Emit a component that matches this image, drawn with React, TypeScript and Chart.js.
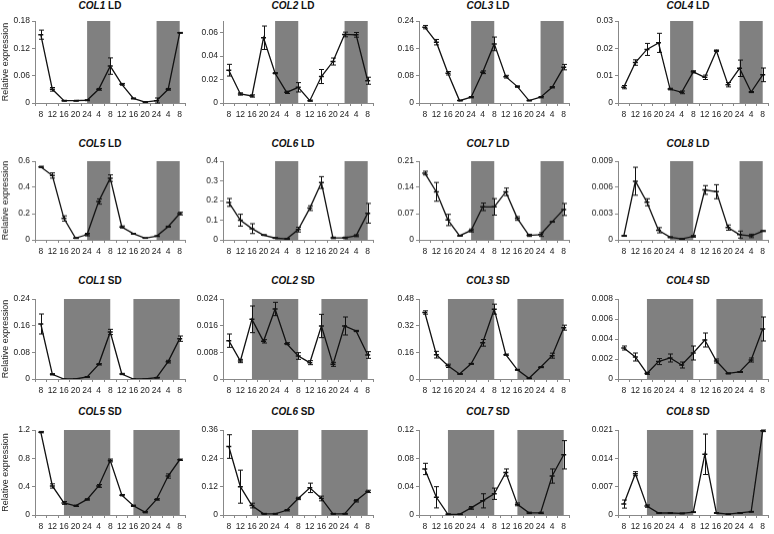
import React, { useEffect, useRef } from "react";
import { Chart, registerables } from "chart.js";

Chart.register(...registerables);

// ---------- categories ----------
const timeLabels = ["8", "12", "16", "20", "24", "4", "8", "12", "16", "20", "24", "4", "8"];

// dark periods as [fromIndex, toIndex] on the category axis
const ldDark = [[4, 6], [10, 12]];
const sdDark = [[2, 6], [8, 12]];

// ---------- series values and error bars ----------
const col1LD = [0.15, 0.03, 0.005, 0.005, 0.006, 0.03, 0.081, 0.041, 0.01, 0.002, 0.005, 0.03, 0.154];
const col1LDErr = [0.01, 0.004, 0.001, 0.001, 0.001, 0.002, 0.018, 0.002, 0.001, 0.001, 0.006, 0.002, 0.001];
const col2LD = [0.028, 0.0077, 0.006, 0.0557, 0.0254, 0.0091, 0.0134, 0.002, 0.0226, 0.0354, 0.0585, 0.0582, 0.019];
const col2LDErr = [0.005, 0.001, 0.001, 0.01, 0.0005, 0.001, 0.004, 0.0005, 0.006, 0.003, 0.002, 0.002, 0.003];
const col3LD = [0.222, 0.178, 0.087, 0.007, 0.017, 0.09, 0.173, 0.077, 0.048, 0.007, 0.017, 0.046, 0.105];
const col3LDErr = [0.005, 0.008, 0.005, 0.001, 0.002, 0.004, 0.02, 0.004, 0.002, 0.001, 0.002, 0.002, 0.008];
const col4LD = [0.0058, 0.0148, 0.0196, 0.022, 0.0051, 0.0039, 0.0114, 0.0094, 0.0191, 0.0067, 0.0127, 0.004, 0.0103];
const col4LDErr = [0.0006, 0.001, 0.0022, 0.0035, 0.0003, 0.0005, 0.0004, 0.0008, 0.0003, 0.0008, 0.003, 0.0002, 0.0025];
const col5LD = [0.556, 0.49, 0.163, 0.013, 0.04, 0.292, 0.47, 0.098, 0.047, 0.013, 0.028, 0.1, 0.2];
const col5LDErr = [0.005, 0.02, 0.02, 0.003, 0.01, 0.02, 0.025, 0.008, 0.003, 0.002, 0.003, 0.004, 0.01];
const col6LD = [0.19, 0.1, 0.057, 0.024, 0.009, 0.005, 0.052, 0.161, 0.291, 0.01, 0.01, 0.021, 0.135];
const col6LDErr = [0.02, 0.03, 0.025, 0.002, 0.002, 0.002, 0.012, 0.012, 0.03, 0.004, 0.004, 0.005, 0.05];
const col7LD = [0.178, 0.128, 0.053, 0.011, 0.025, 0.088, 0.088, 0.128, 0.057, 0.012, 0.014, 0.048, 0.081];
const col7LDErr = [0.005, 0.025, 0.015, 0.001, 0.004, 0.01, 0.022, 0.01, 0.005, 0.003, 0.005, 0.001, 0.016];
const col8LD = [0.00045, 0.0067, 0.0043, 0.0011, 0.0003, 0.0001, 0.0004, 0.0057, 0.0055, 0.0014, 0.0006, 0.00045, 0.001];
const col8LDErr = [0.00005, 0.0016, 0.0004, 0.0003, 0.00005, 0.00005, 0.0001, 0.0005, 0.0008, 0.0003, 0.0004, 0.0002, 0.00005];

const col1SD = [0.165, 0.014, 0.0, 0.0, 0.006, 0.044, 0.141, 0.015, 0.0, 0.0, 0.004, 0.052, 0.121];
const col1SDErr = [0.03, 0.002, 0.0, 0.0, 0.001, 0.002, 0.008, 0.002, 0.0, 0.0, 0.001, 0.004, 0.008];
const col2SD = [0.0115, 0.0054, 0.0179, 0.0113, 0.021, 0.0106, 0.0069, 0.0049, 0.0159, 0.0044, 0.0159, 0.0144, 0.0072];
const col2SDErr = [0.002, 0.0005, 0.004, 0.0005, 0.002, 0.0003, 0.001, 0.0006, 0.0035, 0.0006, 0.0027, 0.0002, 0.001];
const col3SD = [0.399, 0.146, 0.079, 0.03, 0.091, 0.217, 0.419, 0.146, 0.055, 0.004, 0.071, 0.14, 0.308];
const col3SDErr = [0.01, 0.02, 0.01, 0.002, 0.003, 0.02, 0.03, 0.004, 0.003, 0.002, 0.003, 0.015, 0.015];
const col4SD = [0.0031, 0.0022, 0.00056, 0.00174, 0.0021, 0.0014, 0.0026, 0.0039, 0.0018, 0.00056, 0.0007, 0.0019, 0.005];
const col4SDErr = [0.0002, 0.0004, 0.0001, 0.0003, 0.0004, 0.0003, 0.0007, 0.0007, 0.0002, 0.00005, 0.00005, 0.0002, 0.0012];
const col5SD = [1.17, 0.41, 0.17, 0.13, 0.22, 0.41, 0.77, 0.28, 0.13, 0.04, 0.22, 0.55, 0.78];
const col5SDErr = [0.01, 0.03, 0.02, 0.01, 0.01, 0.02, 0.02, 0.01, 0.01, 0.01, 0.01, 0.03, 0.01];
const col6SD = [0.29, 0.12, 0.04, 0.005, 0.005, 0.02, 0.07, 0.115, 0.07, 0.005, 0.005, 0.06, 0.1];
const col6SDErr = [0.05, 0.07, 0.01, 0.002, 0.002, 0.003, 0.005, 0.02, 0.01, 0.002, 0.002, 0.005, 0.005];
const col7SD = [0.065, 0.025, 0.001, 0.001, 0.01, 0.02, 0.03, 0.06, 0.015, 0.003, 0.003, 0.055, 0.085];
const col7SDErr = [0.008, 0.015, 0.0005, 0.0005, 0.002, 0.01, 0.008, 0.005, 0.002, 0.001, 0.001, 0.01, 0.02];
const col8SD = [0.0027, 0.0102, 0.0022, 0.0005, 0.0005, 0.0004, 0.0007, 0.015, 0.0005, 0.0002, 0.0005, 0.0008, 0.0208];
const col8SDErr = [0.001, 0.0005, 0.0003, 0.0001, 0.0001, 0.0001, 0.0001, 0.005, 0.0001, 0.0001, 0.0001, 0.0001, 0.0002];

// ---------- y-axis tick settings (max, step) ----------
const yMaxes = [0.18, 0.07, 0.24, 0.03, 0.6, 0.4, 0.21, 0.009, 0.24, 0.024, 0.48, 0.008, 1.2, 0.36, 0.12, 0.021];
const ySteps = [0.06, 0.01, 0.08, 0.01, 0.1, 0.1, 0.07, 0.003, 0.08, 0.008, 0.16, 0.002, 0.4, 0.12, 0.04, 0.007];

const genes = ["COL1", "COL2", "COL3", "COL4", "COL5", "COL6", "COL7", "COL8", "COL1", "COL2", "COL3", "COL4", "COL5", "COL6", "COL7", "COL8"];
const photoperiods = ["LD", "LD", "LD", "LD", "LD", "LD", "LD", "LD", "SD", "SD", "SD", "SD", "SD", "SD", "SD", "SD"];
const seriesList = [col1LD, col2LD, col3LD, col4LD, col5LD, col6LD, col7LD, col8LD, col1SD, col2SD, col3SD, col4SD, col5SD, col6SD, col7SD, col8SD];
const errorList = [col1LDErr, col2LDErr, col3LDErr, col4LDErr, col5LDErr, col6LDErr, col7LDErr, col8LDErr, col1SDErr, col2SDErr, col3SDErr, col4SDErr, col5SDErr, col6SDErr, col7SDErr, col8SDErr];

// ---------- layout ----------
const colAxisX = [35, 223, 419, 618];
const plotW = 153;
const rowPlotTop = [20.5, 161, 298.5, 430];
const rowPlotBottom = [103, 239.5, 379, 515];
const colTitleX = [100, 293, 488, 688];
const rowTitleY = [5.5, 143.5, 280.5, 412];
const Y_W = 35;
const PAD_T = 8;
const X_H = 19;
const FONT = "'Liberation Sans', Arial, Helvetica, sans-serif";

const fmt = (v: number) => String(parseFloat(v.toFixed(6)));

const bandPlugin = {
  id: "bands",
  beforeDatasetsDraw(chart: any, _a: any, opts: any) {
    const { ctx, chartArea, scales } = chart;
    ctx.save();
    ctx.fillStyle = "#808080";
    for (const [a, b] of opts.bands) {
      const x1 = scales.x.getPixelForValue(a);
      const x2 = scales.x.getPixelForValue(b);
      ctx.fillRect(x1, chartArea.top, x2 - x1, chartArea.bottom - chartArea.top);
    }
    ctx.restore();
  },
};

const errPlugin = {
  id: "errbars",
  afterDatasetsDraw(chart: any, _a: any, opts: any) {
    const { ctx, scales } = chart;
    const meta = chart.getDatasetMeta(0);
    const vals = chart.data.datasets[0].data as number[];
    ctx.save();
    ctx.strokeStyle = "#111";
    ctx.lineWidth = 1;
    vals.forEach((v, i) => {
      const e = opts.errors[i];
      if (!e) return;
      const x = Math.round(meta.data[i].x) + 0.5;
      const yT = scales.y.getPixelForValue(v + e);
      const yB = scales.y.getPixelForValue(Math.max(0, v - e));
      ctx.beginPath();
      ctx.moveTo(x, yT);
      ctx.lineTo(x, yB);
      ctx.moveTo(x - 2.5, yT);
      ctx.lineTo(x + 2.5, yT);
      ctx.moveTo(x - 2.5, yB);
      ctx.lineTo(x + 2.5, yB);
      ctx.stroke();
    });
    ctx.restore();
  },
};

function Panel({ idx }: { idx: number }) {
  const ref = useRef<HTMLCanvasElement>(null);
  const col = idx % 4;
  const row = Math.floor(idx / 4);
  const plotTop = rowPlotTop[row];
  const plotH = rowPlotBottom[row] - plotTop;
  const left = colAxisX[col] - Y_W;
  const top = plotTop - PAD_T;
  const width = Y_W + plotW + 3;
  const height = PAD_T + plotH + X_H;

  useEffect(() => {
    if (!ref.current) return;
    const yMax = yMaxes[idx];
    const step = ySteps[idx];
    const tickVals: number[] = [];
    for (let k = 0; k * step <= yMax + step * 1e-6; k++) tickVals.push(parseFloat((k * step).toFixed(6)));
    const chart = new Chart(ref.current, {
      type: "line",
      data: {
        labels: timeLabels,
        datasets: [
          {
            data: seriesList[idx],
            borderColor: "#111",
            borderWidth: 1.3,
            pointStyle: "line",
            pointRadius: 2.5,
            pointBorderWidth: 1.5,
            pointBorderColor: "#111",
            pointBackgroundColor: "#111",
            fill: false,
            tension: 0,
          },
        ],
      },
      options: {
        animation: false,
        responsive: false,
        events: [],
        layout: { padding: { top: PAD_T, right: 3, left: 0, bottom: 0 } },
        plugins: {
          legend: { display: false },
          tooltip: { enabled: false },
          bands: { bands: idx < 8 ? ldDark : sdDark },
          errbars: { errors: errorList[idx] },
        } as any,
        scales: {
          x: {
            type: "category",
            offset: true,
            grid: { display: true, drawOnChartArea: false, drawTicks: true, tickLength: 3, offset: true, color: "#888" },
            border: { display: true, color: "#888", width: 1 },
            ticks: { autoSkip: false, maxRotation: 0, minRotation: 0, padding: 4, color: "#222", font: { family: FONT, size: 8.5 } },
            afterFit: (s: any) => {
              s.height = X_H;
            },
          },
          y: {
            min: 0,
            max: yMax,
            grid: { display: true, drawOnChartArea: false, drawTicks: true, tickLength: 3, color: "#888" },
            border: { display: true, color: "#888", width: 1 },
            ticks: { color: "#222", padding: 2, font: { family: FONT, size: 8.5 }, callback: (v: any) => fmt(Number(v)) },
            afterBuildTicks: (s: any) => {
              s.ticks = tickVals.map((v) => ({ value: v }));
            },
            afterFit: (s: any) => {
              s.width = Y_W;
            },
            title: {
              display: col === 0,
              text: "Relative expression",
              color: "#222",
              font: { family: FONT, size: 9 },
              padding: 0,
            },
          },
        },
      },
      plugins: [bandPlugin, errPlugin],
    } as any);
    return () => chart.destroy();
  }, [idx]);

  return (
    <canvas
      ref={ref}
      width={width}
      height={height}
      style={{ position: "absolute", left, top, width, height }}
    />
  );
}

export default function App() {
  return (
    <div style={{ position: "absolute", left: 0, top: 0, width: 774, height: 534, background: "#fff", overflow: "hidden" }}>
      {genes.map((g, i) => (
        <div
          key={"t" + i}
          style={{
            position: "absolute",
            left: colTitleX[i % 4],
            top: rowTitleY[Math.floor(i / 4)],
            transform: "translate(-50%, -50%)",
            fontFamily: FONT,
            fontWeight: "bold",
            fontSize: 10,
            color: "#111",
            whiteSpace: "nowrap",
            lineHeight: 1,
          }}
        >
          <i>{g}</i> {photoperiods[i]}
        </div>
      ))}
      {genes.map((_, i) => (
        <Panel key={"p" + i} idx={i} />
      ))}
    </div>
  );
}
